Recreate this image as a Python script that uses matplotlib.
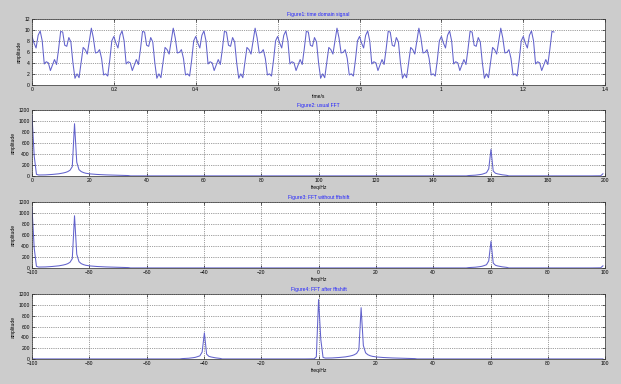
import numpy as np
import matplotlib
matplotlib.use('Agg')
import matplotlib.pyplot as plt

plt.rcParams['font.family'] = ['Liberation Sans', 'DejaVu Sans']

FS = 200            # sampling rate, Hz
N_SAMPLES = 256

# one 0.2 s period of the time signal (40 samples)
period_vals = [8.8, 7.6, 6.7, 9.0, 9.8, 8.0, 3.8, 4.2, 4.0, 2.6,
               3.6, 4.6, 3.7, 6.5, 9.7, 9.6, 7.2, 7.0, 8.6, 7.8,
               4.0, 1.2, 2.0, 1.3, 4.0, 6.8, 6.4, 5.6, 8.0, 10.3,
               8.5, 5.8, 5.9, 6.4, 4.8, 1.8, 2.0, 1.6, 4.5, 8.0]

# magnitude spectrum (usual FFT, 0..200 Hz), FFT bin index and value
fft_bins = [0, 1, 2, 3, 6, 9, 12, 14, 15, 16, 17, 18, 19, 20, 21, 22, 23, 24,
            26, 29, 33, 38, 43, 44, 70, 100, 127, 128, 170, 194, 195, 198,
            200, 201, 202, 203, 204, 205, 206, 207, 208, 210, 212, 213, 250,
            254, 255]
fft_amp = [1100, 360, 30, 18, 20, 28, 40, 55, 65, 80, 105, 170, 950, 250, 115,
           80, 62, 50, 38, 28, 20, 14, 8, 2, 2, 2, 2, 2, 2, 2, 8, 15,
           25, 32, 45, 60, 130, 485, 90, 50, 38, 22, 12, 2, 2,
           4, 40]

BG = '#cccccc'
LINE = '#6262cc'
TXT = 3.6


def style_axes(ax, title, xlabel, xlim, xticks, ylim, yticks):
    ax.set_facecolor('white')
    ax.set_xlim(xlim)
    ax.set_ylim(ylim)
    ax.set_xticks(xticks)
    ax.set_yticks(yticks)
    ax.tick_params(direction='in', length=2, width=0.4, labelsize=TXT, pad=1.5,
                   top=True, right=True)
    ax.grid(True, linestyle=':', color='#444444', linewidth=0.5)
    for sp in ax.spines.values():
        sp.set_linewidth(0.5)
        sp.set_color('#333333')
    ax.set_title(title, fontsize=TXT, color='#2020ff', pad=2)
    ax.set_xlabel(xlabel, fontsize=TXT, labelpad=1.5)
    ax.set_ylabel('amplitude', fontsize=TXT, labelpad=2)


fig = plt.figure(figsize=(6.21, 3.84), dpi=100, facecolor=BG)
left, width = 0.0515, 0.923
ax1 = fig.add_axes([left, 0.779, width, 0.172])
ax2 = fig.add_axes([left, 0.5417, width, 0.172])
ax3 = fig.add_axes([left, 0.302, width, 0.172])
ax4 = fig.add_axes([left, 0.065, width, 0.169])

# time domain
t = np.arange(N_SAMPLES) / FS
x = np.resize(np.array(period_vals), N_SAMPLES)
ax1.plot(t, x, color=LINE, linewidth=0.75)
style_axes(ax1, 'Figure1: time domain signal', 'time/s', (0, 1.4),
           np.arange(0, 1.41, 0.2), (0, 12), range(0, 13, 2))
ax1.set_xticklabels(['0', '0.2', '0.4', '0.6', '0.8', '1', '1.2', '1.4'])

# spectrum
f = np.array(fft_bins) * FS / N_SAMPLES
amp = np.array(fft_amp)

ax2.plot(f, amp, color=LINE, linewidth=0.75)
style_axes(ax2, 'Figure2: usual FFT', 'freq/Hz', (0, 200), range(0, 201, 20),
           (0, 1200), range(0, 1201, 200))

ax3.plot(f - FS / 2, amp, color=LINE, linewidth=0.75)
style_axes(ax3, 'Figure3: FFT without fftshift', 'freq/Hz', (-100, 100),
           range(-100, 101, 20), (0, 1200), range(0, 1201, 200))

f_shift = np.where(f >= FS / 2, f - FS, f)
order = np.argsort(f_shift)
ax4.plot(f_shift[order], amp[order], color=LINE, linewidth=0.75)
style_axes(ax4, 'Figure4: FFT after fftshift', 'freq/Hz', (-100, 100),
           range(-100, 101, 20), (0, 1200), range(0, 1201, 200))

fig.savefig('out.png', dpi=100, facecolor=BG)
